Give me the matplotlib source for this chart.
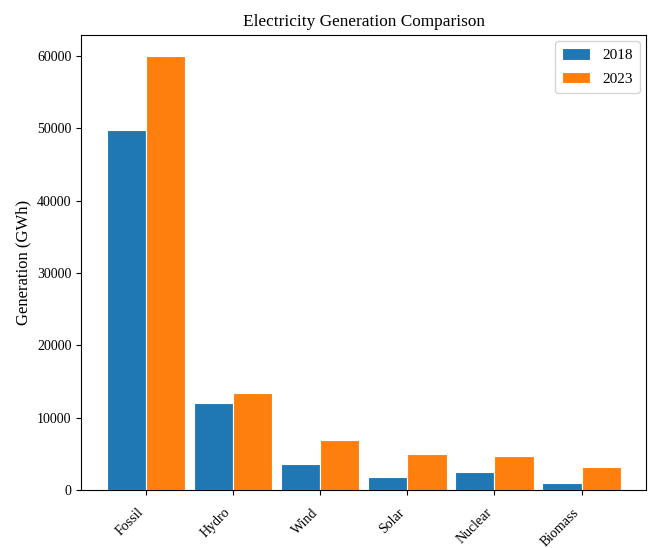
import numpy as np
import matplotlib
matplotlib.use('Agg')
from matplotlib import pyplot as plt

plt.rcParams['font.family'] = ['Liberation Serif', 'DejaVu Serif']

sources = ['Fossil', 'Hydro', 'Wind', 'Solar', 'Nuclear', 'Biomass']
gen_2018 = [49850, 12050, 3560, 1760, 2450, 930]
gen_2023 = [60000, 13400, 6900, 4950, 4750, 3140]

x = np.arange(len(sources))
w = 0.45

fig = plt.figure(figsize=(6.49, 5.48), dpi=100)
ax = fig.add_subplot(111)
fig.subplots_adjust(left=0.125, right=0.996, top=0.937, bottom=0.106)

ax.bar(x - w / 2, gen_2018, w, label='2018', color='#1f77b4', edgecolor='white', linewidth=0.8)
ax.bar(x + w / 2, gen_2023, w, label='2023', color='#ff7f0e', edgecolor='white', linewidth=0.8)

ax.set_xticks(x)
ax.set_xticklabels(sources, rotation=45, ha='right', fontsize=10)
ax.tick_params(axis='x', pad=8)
ax.tick_params(axis='y', labelsize=10)
ax.set_ylabel('Generation (GWh)', fontsize=12)
ax.set_title('Electricity Generation Comparison', fontsize=12.4)
ax.legend(loc='upper right', fontsize=11, labelspacing=0.6, handleheight=0.8,
          handlelength=1.85, borderpad=0.45, borderaxespad=0.45)

plt.savefig('out.png')
